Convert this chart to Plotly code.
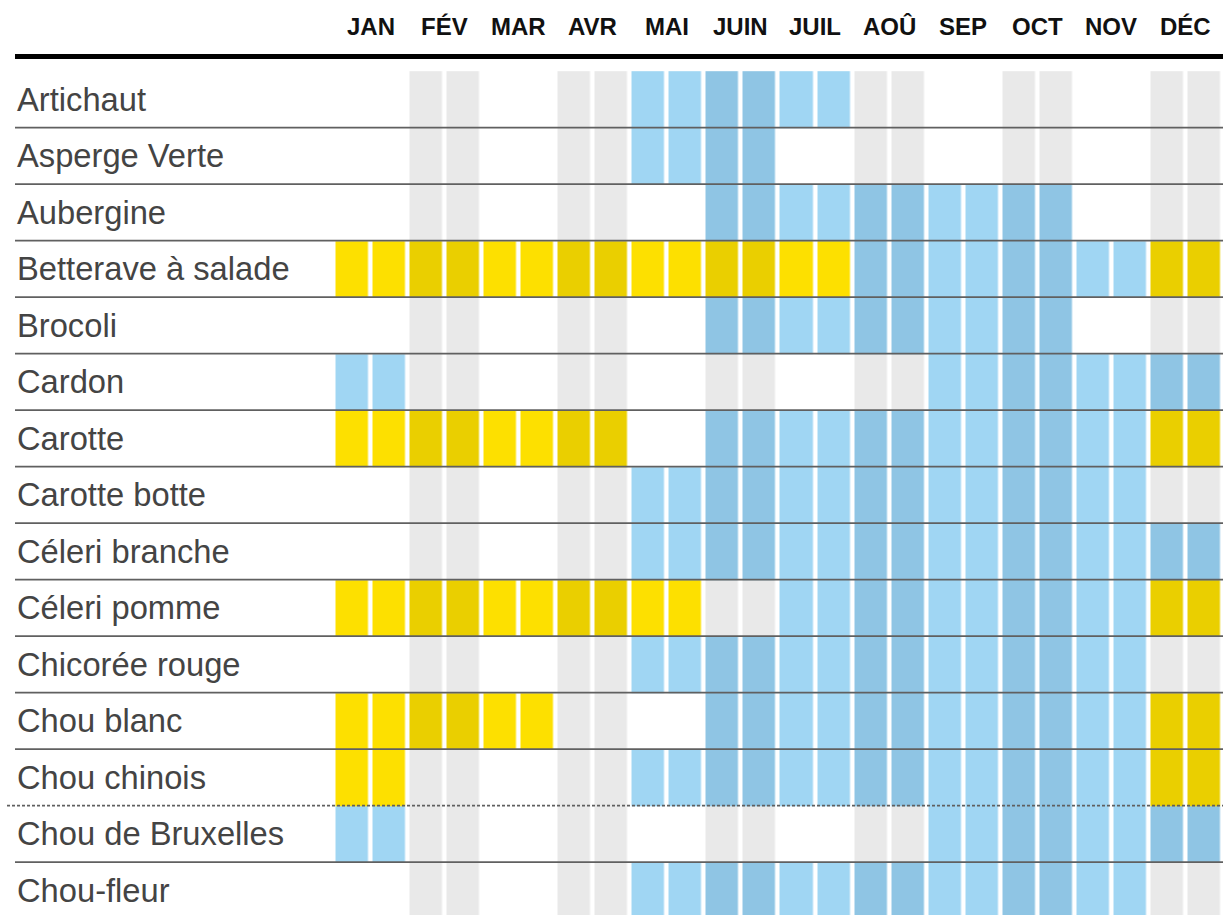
import plotly.graph_objects as go

# ---------------- data ----------------
months = ["JAN", "FÉV", "MAR", "AVR", "MAI", "JUIN",
          "JUIL", "AOÛ", "SEP", "OCT", "NOV", "DÉC"]

vegetables = [
    "Artichaut", "Asperge Verte", "Aubergine", "Betterave à salade",
    "Brocoli", "Cardon", "Carotte", "Carotte botte", "Céleri branche",
    "Céleri pomme", "Chicorée rouge", "Chou blanc", "Chou chinois",
    "Chou de Bruxelles", "Chou-fleur",
]

# one letter per half-month (24 per vegetable):
# B = blue season, Y = yellow season, . = none
seasons = [
    "........BBBBBB..........",  # Artichaut
    "........BBBB............",  # Asperge Verte
    "..........BBBBBBBBBB....",  # Aubergine
    "YYYYYYYYYYYYYYBBBBBBBBYY",  # Betterave à salade
    "..........BBBBBBBBBB....",  # Brocoli
    "BB..............BBBBBBBB",  # Cardon
    "YYYYYYYY..BBBBBBBBBBBBYY",  # Carotte
    "........BBBBBBBBBBBBBB..",  # Carotte botte
    "........BBBBBBBBBBBBBBBB",  # Céleri branche
    "YYYYYYYYYY..BBBBBBBBBBYY",  # Céleri pomme
    "........BBBBBBBBBBBBBB..",  # Chicorée rouge
    "YYYYYY....BBBBBBBBBBBBYY",  # Chou blanc
    "YY......BBBBBBBBBBBBBBYY",  # Chou chinois
    "BB..............BBBBBBBB",  # Chou de Bruxelles
    "........BBBBBBBBBBBBBB..",  # Chou-fleur
]

# ---------------- styling ----------------
W, H = 1223, 915
grid_left, half_w = 333.5, 37.04      # px
rows_top, row_h = 71.2, 56.5          # px

palette = ["#ffffff", "#e9e9e9",     # empty: light month / shaded month
           "#a0d6f3", "#8fc5e4",     # blue
           "#fde000", "#eacf00"]     # yellow
base = {".": 0, "B": 2, "Y": 4}

z = []
for s in seasons:
    z.append([base[c] + ((j // 2) % 2) for j, c in enumerate(s)])

n = len(palette)
colorscale = []
for i, c in enumerate(palette):
    colorscale.append([i / n, c])
    colorscale.append([(i + 1) / n, c])

fig = go.Figure(go.Heatmap(
    z=z, x=list(range(24)), y=list(range(len(vegetables))),
    zmin=-0.5, zmax=n - 0.5, colorscale=colorscale, showscale=False,
    xgap=4.5, ygap=0, hoverinfo="skip",
))

def px_to_x(p):
    return -0.5 + (p - grid_left) / half_w

def px_to_y(p):
    return -0.5 + (p - rows_top) / row_h

# row labels
for i, v in enumerate(vegetables):
    fig.add_annotation(x=15 / W, xref="paper", y=i, yref="y", text=v,
                       xanchor="left", yanchor="middle", showarrow=False,
                       font=dict(family="Liberation Sans, Arial", size=32.7,
                                 color="#444444"))

# month headers
for m, name in enumerate(months):
    fig.add_annotation(x=2 * m + 0.5, y=px_to_y(26), text="<b>%s</b>" % name,
                       xanchor="center", yanchor="middle", showarrow=False,
                       font=dict(family="Liberation Sans, Arial", size=24,
                                 color="#111111"))

# thick header rule
fig.add_shape(type="line", xref="paper", yref="y", x0=15 / W, x1=1,
              y0=px_to_y(56.5), y1=px_to_y(56.5),
              line=dict(color="#000000", width=5))

# row separators
for i in range(len(vegetables) - 1):
    dashed = vegetables[i] == "Chou chinois"
    fig.add_shape(type="line", xref="paper", yref="y",
                  x0=(7 if dashed else 15) / W, x1=1,
                  y0=i + 0.5, y1=i + 0.5,
                  line=dict(color="#606060", width=1.8,
                            dash="3px,2px" if dashed else "solid"))

fig.update_layout(
    width=W, height=H, margin=dict(l=0, r=0, t=0, b=0),
    paper_bgcolor="white", plot_bgcolor="white", showlegend=False,
    xaxis=dict(range=[px_to_x(0), px_to_x(W)], domain=[0, 1], visible=False,
               fixedrange=True),
    yaxis=dict(range=[px_to_y(H), px_to_y(0)], domain=[0, 1], visible=False,
               fixedrange=True),
)

fig.write_html("out.html",
               config={"displayModeBar": False, "staticPlot": True},
               post_script="document.body.style.margin='0';"
                           "document.body.style.overflow='hidden';")
